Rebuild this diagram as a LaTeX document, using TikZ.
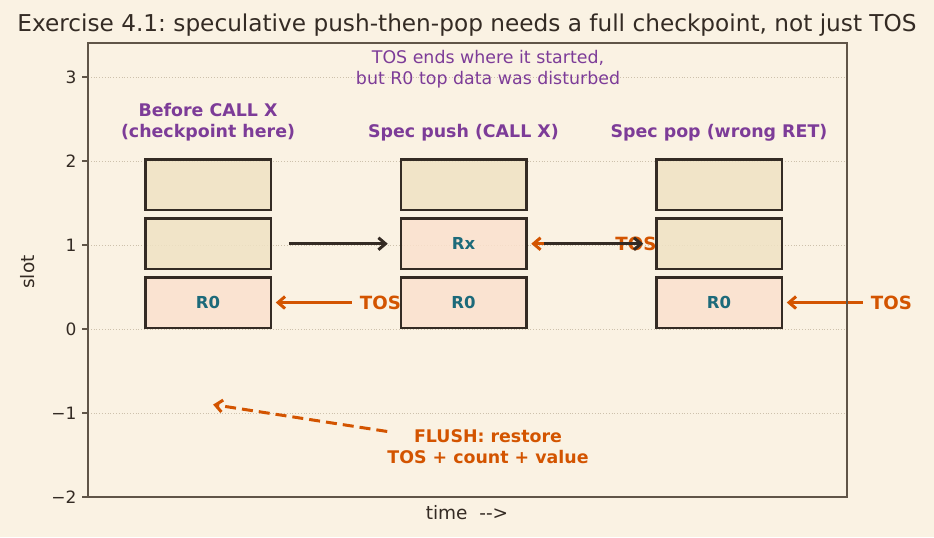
\documentclass[tikz,border=0pt]{standalone}
\usepackage{fontspec}
\setmainfont{DejaVu Sans}
\usetikzlibrary{positioning, arrows.meta}
\definecolor{PBg}{RGB}{250,242,227}
\definecolor{PInk}{RGB}{52,43,36}
\definecolor{PSpine}{RGB}{96,85,72}
\definecolor{PGrid}{RGB}{205,193,172}
\definecolor{PTan}{RGB}{240,226,196}
\definecolor{PPeach}{RGB}{251,225,206}
\definecolor{PTeal}{RGB}{28,106,122}
\definecolor{POrange}{RGB}{211,84,0}
\definecolor{PPurple}{RGB}{125,60,152}
\frenchspacing

\begin{document}
\begin{tikzpicture}[x=255.5pt, y=84pt,
      every node/.style={inner sep=0pt, text=PInk},
      slotbox/.style={draw=PInk, line width=2.5pt, fill=PTan, fill opacity=.85, text opacity=1,
                      outer sep=0pt, minimum width=125.5pt, minimum height=50.5pt},
      usedbox/.style={slotbox, fill=PPeach, text=PTeal,
                      font=\fontsize{16.5}{19}\selectfont\bfseries},
      stagelbl/.style={font=\fontsize{17.4}{20.9}\selectfont\bfseries, text=PPurple, align=center},
      toslbl/.style={font=\fontsize{18.2}{21}\selectfont\bfseries, text=POrange},
      axlbl/.style={font=\fontsize{18.5}{22}\selectfont},
      ticklbl/.style={font=\fontsize{17}{20}\selectfont},
      tickmark/.style={PSpine, line width=1.2pt},
      gridline/.style={PGrid, dotted, line width=.8pt},
      tosarr/.style={->, >={Straight Barb[length=7pt, width=12pt]}, line width=3pt, POrange,
                     shorten >=5pt, shorten <=8pt},
      flow/.style={->, >={Straight Barb[length=7pt, width=12pt]}, line width=3pt, PInk,
                   shorten <=18pt, shorten >=13pt},
      flusharr/.style={->, >={Straight Barb[length=7pt, width=12pt]}, line width=3pt, POrange,
                       dash pattern=on 11pt off 6pt},
    ]
      % Background, grid and ticks
      \path[use as bounding box, fill=PBg] (-0.8141,-2.4762) rectangle (2.8415,3.9167);
      \draw[gridline] (-0.4697,-1) -- (2.501,-1);
      \draw[gridline] (-0.4697,0) -- (2.501,0);
      \draw[gridline] (-0.4697,1) -- (2.501,1);
      \draw[gridline] (-0.4697,2) -- (2.501,2);
      \draw[gridline] (-0.4697,3) -- (2.501,3);
      \draw[tickmark] (-0.4697,3) -- ++(-6pt,0) node[ticklbl, left=5pt] {3};
      \draw[tickmark] (-0.4697,2) -- ++(-6pt,0) node[ticklbl, left=5pt] {2};
      \draw[tickmark] (-0.4697,1) -- ++(-6pt,0) node[ticklbl, left=5pt] {1};
      \draw[tickmark] (-0.4697,0) -- ++(-6pt,0) node[ticklbl, left=5pt] {0};
      \draw[tickmark] (-0.4697,-1) -- ++(-6pt,0) node[ticklbl, left=5pt] {−1};
      \draw[tickmark] (-0.4697,-2) -- ++(-6pt,0) node[ticklbl, left=5pt] {−2};
      \node[axlbl, rotate=90] (ylbl) at (-0.7045,0.679) {slot};
      \node[axlbl] (xlbl) at (1.0137,-2.19) {time~~-{}->};
      \node[font=\fontsize{23.2}{27}\selectfont] (title) at (1.0137,3.619)
        {Exercise 4.1: speculative push-then-pop needs a full checkpoint, not just TOS};
      \node[font=\fontsize{17.4}{20.9}\selectfont, text=PPurple, align=center] (note) at (1.096,3.095)
        {TOS ends where it started,\\but R0 top data was disturbed};
      % Stage 1: before CALL X
      \node[usedbox] (before0) at (0,0.315) {R0};
      \node[slotbox, above=8.3pt of before0] (before1) {};
      \node[slotbox, above=8.3pt of before1] (before2) {};
      \node[stagelbl, above=18pt of before2] (lblbefore) {Before CALL X\\(checkpoint here)};
      % Stage 2: spec push
      \node[usedbox] (push0) at (1,0.315) {R0};
      \node[usedbox, above=8.3pt of push0] (push1) {Rx};
      \node[slotbox, above=8.3pt of push1] (push2) {};
      \node[stagelbl, above=18pt of push2] (lblpush) {Spec push (CALL X)};
      % Stage 3: spec pop
      \node[usedbox] (pop0) at (2,0.315) {R0};
      \node[slotbox, above=8.3pt of pop0] (pop1) {};
      \node[slotbox, above=8.3pt of pop1] (pop2) {};
      \node[stagelbl, above=18pt of pop2] (lblpop) {Spec pop (wrong RET)};
      % TOS pointers
      \node[toslbl, right=89pt of before0] (tos0) {TOS};
      \node[toslbl, right=89pt of push1] (tos1) {TOS};
      \node[toslbl, right=89pt of pop0] (tos2) {TOS};
      \draw[tosarr] (tos0) -- (before0);
      \draw[tosarr] (tos1) -- (push1);
      \draw[tosarr] (tos2) -- (pop0);
      % Time steps
      \draw[flow] (before1) -- (push1);
      \draw[flow] (push1) -- (pop1);
      % Flush back to the checkpoint
      \node[stagelbl, text=POrange] (flush) at (1.096,-1.405) {FLUSH: restore\\TOS + count + value};
      \coordinate (ckpt) at (0.02,-0.9);
      \draw[flusharr] (flush) -- (ckpt);
      % Axes frame
      \draw[PSpine, line width=1.3pt] (-0.4697,-2) rectangle (2.501,3.405);
    \end{tikzpicture}
\end{document}
